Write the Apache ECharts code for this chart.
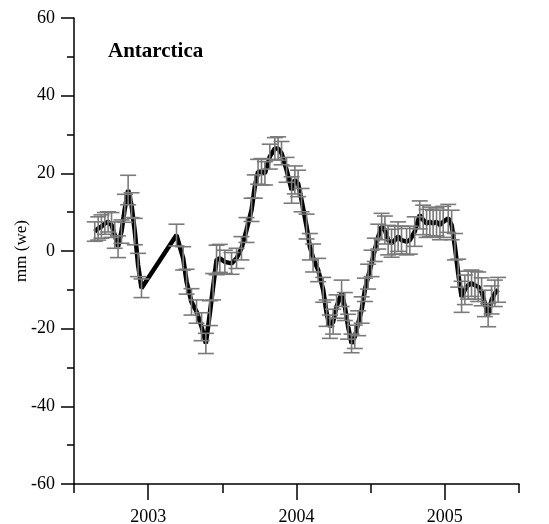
<!DOCTYPE html>
<html>
<head>
<meta charset="utf-8">
<script src="https://cdn.jsdelivr.net/npm/echarts@6/dist/echarts.min.js"></script>
<style>html,body{margin:0;padding:0;background:#fff}#c{width:549px;height:524px}</style>
</head>
<body>
<div id="c"></div>
<script>
const years = [2002.640,2002.663,2002.685,2002.708,2002.730,2002.753,2002.775,2002.797,2002.820,2002.843,2002.865,2002.888,2002.910,2002.932,2002.955,
2003.191,2003.236,2003.259,2003.292,2003.326,2003.360,2003.389,2003.416,2003.438,2003.461,2003.483,2003.517,2003.562,2003.596,2003.629,2003.663,2003.697,2003.719,2003.741,2003.764,2003.787,2003.820,2003.854,2003.876,2003.899,2003.933,2003.967,2003.989,
2004.011,2004.034,2004.068,2004.090,2004.112,2004.146,2004.180,2004.203,2004.225,2004.247,2004.270,2004.304,2004.326,2004.348,2004.371,2004.393,2004.416,2004.439,2004.461,2004.483,2004.506,2004.528,2004.551,2004.574,2004.596,2004.618,2004.641,2004.663,2004.685,2004.708,2004.742,2004.764,2004.797,2004.831,2004.854,2004.877,2004.899,2004.921,2004.944,2004.967,2004.989,
2005.023,2005.046,2005.068,2005.090,2005.113,2005.135,2005.157,2005.180,2005.203,2005.225,2005.248,2005.270,2005.292,2005.315,2005.337,2005.359];
const values = [5.0,5.8,6.3,7.1,7.5,6.7,4.1,1.1,5.0,11.0,15.7,11.8,5.0,-3.6,-9.6,
4.1,-1.9,-7.9,-13.1,-15.6,-19.5,-23.8,-16.0,-9.2,-2.3,-1.9,-2.8,-3.2,-1.9,0.7,5.4,10.6,16.6,20.4,20.4,20.0,24.3,26.4,26.4,25.2,20.9,15.7,18.3,
17.4,13.1,6.3,1.1,-1.8,-4.9,-10.0,-16.0,-19.5,-18.2,-14.3,-10.9,-14.3,-19.5,-23.8,-22.1,-18.6,-15.2,-10.0,-6.6,-3.2,0.3,3.7,6.3,5.4,2.8,2.0,2.8,3.7,2.8,2.4,2.8,5.0,9.3,8.0,7.1,7.5,7.1,7.5,6.7,7.5,
8.4,6.7,1.1,-5.7,-11.8,-10.0,-8.8,-8.3,-8.8,-9.2,-10.5,-13.5,-16.5,-12.6,-10.9,-10.0];
const errors = [2.5,3.0,3.0,2.8,2.6,3.2,3.4,2.8,3.0,3.6,3.8,3.2,3.4,3.0,2.4,
2.8,3.0,3.2,3.4,3.0,3.6,2.6,3.2,3.4,3.8,3.6,3.0,2.8,2.6,3.0,3.2,3.0,3.0,3.2,3.4,3.0,3.2,2.8,3.0,3.0,3.2,3.4,3.6,
3.4,3.0,3.2,3.4,3.6,3.0,3.2,3.4,3.0,3.2,3.0,3.4,3.6,3.2,2.4,3.0,3.2,3.4,3.0,3.2,3.4,3.0,3.2,3.4,3.6,3.8,3.6,3.6,3.8,3.6,3.4,3.6,3.8,3.6,3.8,3.6,3.8,3.4,3.6,3.8,4.0,
3.6,3.8,3.4,3.6,4.0,3.8,3.6,3.4,3.6,3.8,3.6,3.4,3.0,3.6,3.4,3.2];
const yearTicks = [2003, 2004, 2005];
const halfTicks = [2002.5, 2003.5, 2004.5, 2005.5];

const serif = '"Liberation Serif", "DejaVu Serif", serif';
const lineData = years.map((y, i) => [y, values[i]]);
const errData = years.map((y, i) => [y, values[i] - errors[i], values[i] + errors[i]]);

const chart = echarts.init(document.getElementById('c'));
chart.setOption({
  animation: false,
  backgroundColor: '#fff',
  title: {
    text: 'Antarctica', left: 103, top: 36,
    textStyle: { fontFamily: serif, fontWeight: 'bold', fontSize: 21, color: '#000' }
  },
  grid: { left: 74, right: 30, top: 18, bottom: 40, containLabel: false, outerBoundsMode: 'none' },
  xAxis: [{
    type: 'value', min: 2002.5, max: 2005.5,
    axisLine: { show: true, onZero: false, lineStyle: { color: '#000', width: 1.5 } },
    axisTick: { show: true, length: 16, customValues: yearTicks, lineStyle: { color: '#000', width: 1.5 } },
    axisLabel: { customValues: yearTicks, formatter: v => String(Math.round(v)), margin: 24,
      fontFamily: serif, fontSize: 18, color: '#000' },
    splitLine: { show: false }
  }, {
    type: 'value', min: 2002.5, max: 2005.5, position: 'bottom',
    axisLine: { show: false, onZero: false },
    axisTick: { show: true, length: 9, customValues: halfTicks, lineStyle: { color: '#000', width: 1.5 } },
    axisLabel: { show: false },
    splitLine: { show: false }
  }],
  yAxis: {
    type: 'value', min: -60, max: 60, interval: 20,
    name: 'mm (we)', nameLocation: 'middle', nameGap: 44, nameRotate: 90, nameMoveOverlap: false,
    nameTextStyle: { fontFamily: serif, fontSize: 17, color: '#000' },
    axisLine: { show: true, onZero: false, lineStyle: { color: '#000', width: 1.5 } },
    axisTick: { show: true, length: 13, lineStyle: { color: '#000', width: 1.5 } },
    minorTick: { show: true, splitNumber: 2, length: 7, lineStyle: { color: '#000', width: 1.5 } },
    axisLabel: { margin: 19, fontFamily: serif, fontSize: 18, color: '#000' },
    splitLine: { show: false }
  },
  series: [{
    type: 'line', data: lineData, symbol: 'none', z: 2,
    lineStyle: { color: '#000', width: 4.5 }
  }, {
    type: 'custom', data: errData, z: 3,
    renderItem: function (params, api) {
      const x = api.value(0);
      const lo = api.coord([x, api.value(1)]);
      const hi = api.coord([x, api.value(2)]);
      const hw = 8;
      const st = { stroke: '#7a7a7a', lineWidth: 1.6 };
      return { type: 'group', children: [
        { type: 'line', shape: { x1: lo[0], y1: lo[1], x2: hi[0], y2: hi[1] }, style: st },
        { type: 'line', shape: { x1: lo[0] - hw, y1: lo[1], x2: lo[0] + hw, y2: lo[1] }, style: st },
        { type: 'line', shape: { x1: hi[0] - hw, y1: hi[1], x2: hi[0] + hw, y2: hi[1] }, style: st }
      ]};
    }
  }]
});
</script>
</body>
</html>
